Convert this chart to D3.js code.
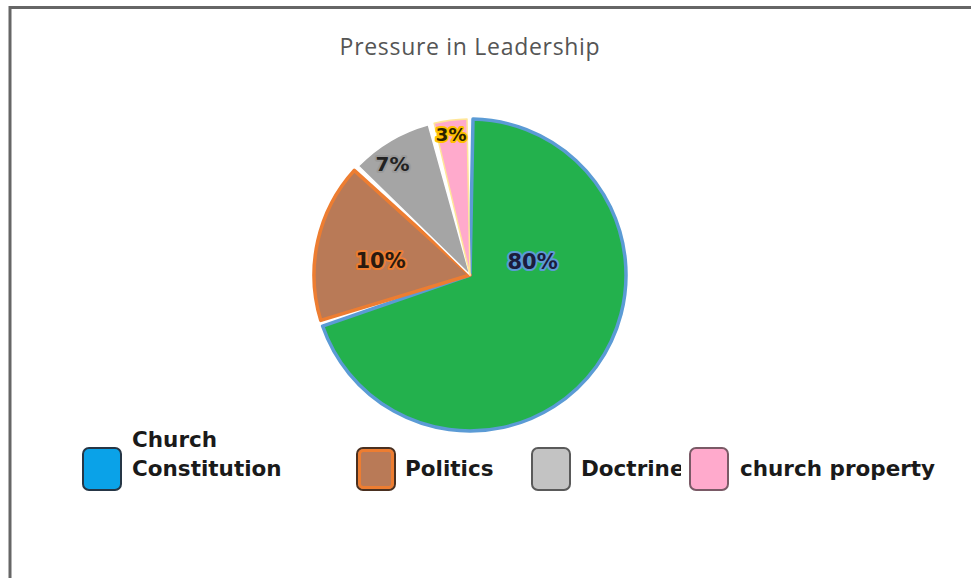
<!DOCTYPE html>
<html>
<head>
<meta charset="utf-8">
<script src="https://cdn.jsdelivr.net/npm/d3@7"></script>
<style>
  html, body { margin: 0; padding: 0; background: #fff; }
  svg { display: block; }
</style>
</head>
<body>
<svg id="chart" width="971" height="578"></svg>
<script>
// ---- data ----
const title = "Pressure in Leadership";
const categories = ["Church Constitution", "Politics", "Doctrine", "church property"];
const legendLines = [["Church", "Constitution"], ["Politics"], ["Doctrine"], ["church property"]];
const sliceValues = [70, 17, 9, 4];          // slice sizes as drawn
const valueLabels = ["80%", "10%", "7%", "3%"]; // label texts as printed

// ---- style / layout ----
const sliceFill   = ["#23b14d", "#b97a57", "#a5a5a5", "#ffaacc"];
const sliceStroke = ["#5b9bd5", "#ed7d31", "#ffffff", "#ffe699"];
const sliceStrokeW = [3.5, 3.5, 1.5, 1.5];
const labelFill   = ["#1c1c3c", "#2a1a10", "#222222", "#2a2000"];
const labelHalo   = ["#5b9bd5", "#ed7d31", "#9a9a9a", "#ffc000"];
const labelSize   = [21, 21, 20, 18];
const labelAngleFrac  = [0.31, 0.44, 0.37, 0.47];
const labelRadiusFrac = [0.41, 0.58, 0.87, 0.91];
const legendFill   = ["#0aa2e8", "#b97a57", "#c3c3c3", "#ffaacc"];
const legendStroke = ["#263646", "#ed7d31", "#5a5a5a", "#7a5a66"];
const legendBoxX   = [83, 357, 532, 690];
const legendTextX  = [132, 405, 581, 740];

const svg = d3.select("#chart");
const cx = 470, cy = 275, R = 156;

// frame
svg.append("rect")
  .attr("x", 10).attr("y", 7.5)
  .attr("width", 1000).attr("height", 600)
  .attr("fill", "none").attr("stroke", "#666").attr("stroke-width", 3);

// title
svg.append("text")
  .attr("x", cx).attr("y", 55)
  .attr("text-anchor", "middle")
  .attr("font-family", "'Open Sans', 'Noto Sans', sans-serif")
  .attr("font-size", 23)
  .attr("letter-spacing", 0.7)
  .attr("fill", "#555555")
  .text(title);

// pie
const pie = d3.pie().sort(null).value(d => d);
const arcs = pie(sliceValues);
const arc = d3.arc().innerRadius(0).outerRadius(R).padAngle(0.06).padRadius(100);

const g = svg.append("g").attr("transform", `translate(${cx},${cy})`);

g.selectAll("path.slice")
  .data(arcs)
  .join("path")
  .attr("class", "slice")
  .attr("d", arc)
  .attr("fill", (d, i) => sliceFill[i])
  .attr("stroke", (d, i) => sliceStroke[i])
  .attr("stroke-width", (d, i) => sliceStrokeW[i])
  .attr("stroke-linejoin", "round");

// labels
const labels = g.selectAll("g.lbl")
  .data(arcs)
  .join("g")
  .attr("class", "lbl")
  .attr("transform", (d, i) => {
    const a = d.startAngle + labelAngleFrac[i] * (d.endAngle - d.startAngle);
    const r = labelRadiusFrac[i] * R;
    return `translate(${r * Math.sin(a)},${-r * Math.cos(a)})`;
  });

["halo", "fg"].forEach(layer => {
  labels.append("text")
    .attr("text-anchor", "middle")
    .attr("dominant-baseline", "central")
    .attr("font-family", "'DejaVu Sans', sans-serif")
    .attr("font-weight", "bold")
    .attr("font-size", (d, i) => labelSize[i])
    .attr("fill", (d, i) => layer === "halo" ? labelHalo[i] : labelFill[i])
    .attr("stroke", (d, i) => layer === "halo" ? labelHalo[i] : "none")
    .attr("stroke-width", layer === "halo" ? 4 : 0)
    .attr("stroke-linejoin", "round")
    .text((d, i) => valueLabels[i]);
});

// legend
const defs = svg.append("defs");
defs.append("clipPath").attr("id", "clipDoc")
  .append("rect").attr("x", 0).attr("y", 0).attr("width", 681).attr("height", 578);

const leg = svg.append("g");
categories.forEach((c, i) => {
  const item = leg.append("g");
  if (i === 1) {
    item.append("rect")
      .attr("x", legendBoxX[i]).attr("y", 448)
      .attr("width", 38).attr("height", 42).attr("rx", 6)
      .attr("fill", legendFill[i]).attr("stroke", "#4a3020").attr("stroke-width", 2);
    item.append("rect")
      .attr("x", legendBoxX[i] + 2.5).attr("y", 450.5)
      .attr("width", 33).attr("height", 37).attr("rx", 4)
      .attr("fill", "none").attr("stroke", legendStroke[i]).attr("stroke-width", 3);
  } else {
    item.append("rect")
      .attr("x", legendBoxX[i]).attr("y", 448)
      .attr("width", 38).attr("height", 42).attr("rx", 6)
      .attr("fill", legendFill[i]).attr("stroke", legendStroke[i]).attr("stroke-width", 2);
  }
  const lines = legendLines[i];
  const t = item.append("text")
    .attr("font-family", "'DejaVu Sans', sans-serif")
    .attr("font-weight", "bold")
    .attr("font-size", 21.5)
    .attr("fill", "#1a1a1a");
  if (i === 2) t.attr("clip-path", "url(#clipDoc)");
  lines.forEach((ln, k) => {
    t.append("tspan")
      .attr("x", legendTextX[i])
      .attr("y", 476 - (lines.length - 1 - k) * 29)
      .text(ln);
  });
});
</script>
</body>
</html>
